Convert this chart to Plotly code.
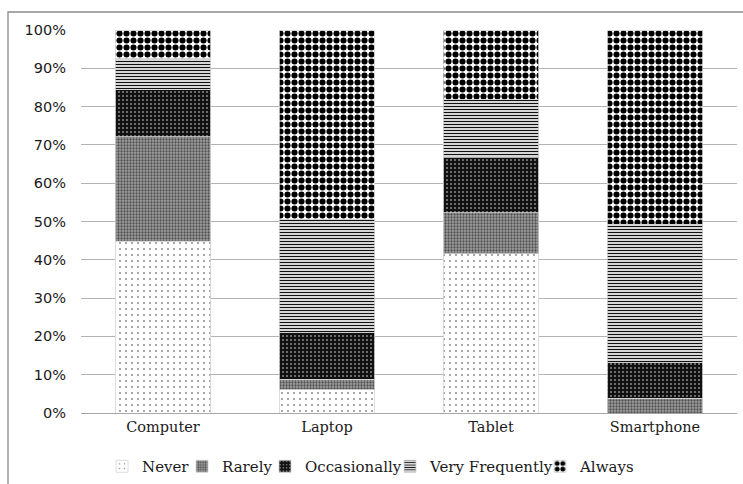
import plotly.graph_objects as go

# Device categories on the x axis
devices = ["Computer", "Laptop", "Tablet", "Smartphone"]

# Share of respondents (%) per usage frequency, stacked bottom to top
never = [44.8, 6.1, 41.6, 0.0]
rarely = [27.3, 2.7, 10.7, 3.9]
occasionally = [12.3, 12.3, 14.3, 9.3]
very_frequently = [8.1, 29.5, 15.2, 36.1]
always = [7.5, 49.4, 18.2, 50.7]

y_ticks = [0, 10, 20, 30, 40, 50, 60, 70, 80, 90, 100]
y_tick_labels = ["0%", "10%", "20%", "30%", "40%", "50%", "60%", "70%", "80%", "90%", "100%"]

series = [
    ("Never", never, dict(shape=".", bgcolor="white", fgcolor="#808080", size=6, solidity=0.07)),
    ("Rarely", rarely, dict(shape=".", bgcolor="#a0a0a0", fgcolor="#505050", size=3, solidity=0.45)),
    ("Occasionally", occasionally, dict(shape=".", bgcolor="#111111", fgcolor="#8a8a8a", size=4, solidity=0.2)),
    ("Very Frequently", very_frequently, dict(shape="-", bgcolor="white", fgcolor="#111111", size=3, solidity=0.45)),
    ("Always", always, dict(shape=".", bgcolor="white", fgcolor="#000000", size=7, solidity=0.6)),
]

W, H = 743, 484
L, R, T, B = 81, 6, 30, 71
pw, ph = W - L - R, H - T - B

# Left edge (px) of each legend label in the bottom legend row
legend_text_x = [142, 222, 305, 430, 580]
legend_names = ["legend", "legend2", "legend3", "legend4", "legend5"]

fig = go.Figure()
for (name, values, pattern), lg in zip(series, legend_names):
    fig.add_trace(go.Bar(
        name=name,
        x=devices,
        y=values,
        legend=lg,
        marker=dict(color=pattern["bgcolor"], opacity=1,
                    pattern=dict(pattern, fgopacity=1, fillmode="replace"),
                    line=dict(color="#d4d4d4", width=0.8)),
    ))

legend_font = dict(family="DejaVu Serif", size=15, color="#1a1a1a")
legend_layouts = {}
for lg, tx in zip(legend_names, legend_text_x):
    legend_layouts[lg] = dict(
        orientation="h",
        xref="container", yref="container",
        x=(tx - 40) / W, xanchor="left",
        y=1 - 466.5 / H, yanchor="middle",
        font=legend_font,
        itemwidth=30,
        bgcolor="rgba(0,0,0,0)",
    )

# Outer chart frame (top and left edges visible, others run off the page)
fx0 = (8 - L) / pw
fx1 = (W + 4 - L) / pw
fy1 = (H - B - 12) / ph
fy0 = (H - B - (H + 4)) / ph

fig.update_layout(
    width=W, height=H,
    margin=dict(l=L, r=R, t=T, b=B),
    paper_bgcolor="white",
    plot_bgcolor="white",
    barmode="stack",
    bargap=0.42,
    showlegend=True,
    xaxis=dict(
        tickfont=dict(family="DejaVu Serif", size=14.5, color="#1a1a1a"),
        showline=True, linecolor="#a6a6a6", linewidth=1.3,
        ticks="", showgrid=False,
    ),
    yaxis=dict(
        range=[0, 100],
        tickvals=y_ticks, ticktext=y_tick_labels,
        tickfont=dict(family="DejaVu Sans", size=14.5, color="#1a1a1a"),
        showgrid=True, gridcolor="#b3b3b3", gridwidth=1,
        zeroline=False, ticks="", ticklabelstandoff=14,
    ),
    shapes=[dict(
        type="rect", xref="paper", yref="paper",
        x0=fx0, x1=fx1, y0=fy0, y1=fy1,
        line=dict(color="#8c8c8c", width=1.3),
        fillcolor="rgba(0,0,0,0)", layer="below",
    )],
    **legend_layouts,
)

fig.write_html("out.html")
